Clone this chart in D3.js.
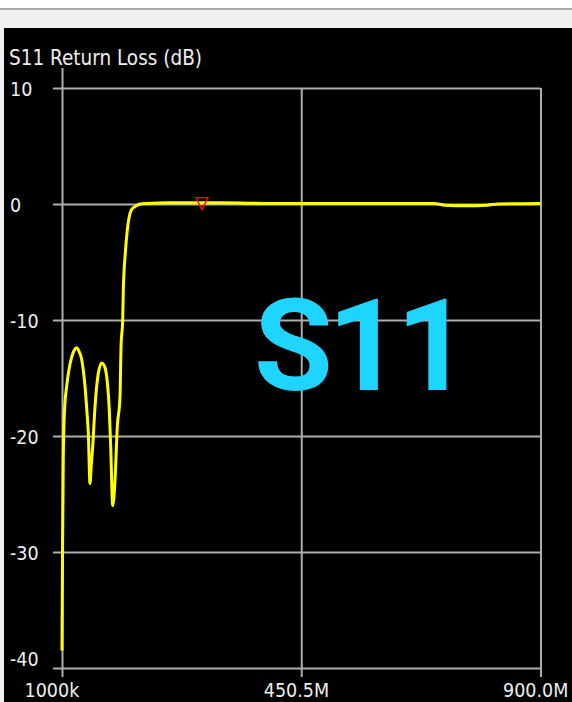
<!DOCTYPE html>
<html>
<head>
<meta charset="utf-8">
<script src="https://cdn.jsdelivr.net/npm/d3@7/dist/d3.min.js"></script>
<style>
  html, body { margin: 0; padding: 0; background: #f0f0f0; }
  svg { display: block; }
</style>
</head>
<body>
<svg id="chart" width="572" height="702"></svg>
<script>
// ---- data ----
const chartTitle = "S11 Return Loss (dB)";
const bigLabel = "S11";
const freqMHz = [1, 2, 3.4, 5.5, 9.8, 14, 19.2, 24, 28.6, 33, 38, 44.2, 48, 50.4, 53.6, 56, 58.7, 63, 69.2, 75.6, 80, 85, 89.9, 92.5, 96.3, 100.6, 104.9, 110, 111.9, 115, 116.2, 119.9, 123.7, 128.8, 133, 138, 147.6, 160, 200, 264, 300, 400, 500, 600, 700, 720, 760, 800, 820, 900];
const s11dB = [-38.5, -30, -22, -18, -15.7, -14.3, -13.2, -12.6, -12.4, -12.7, -13.4, -15.7, -18, -19.7, -24.1, -22.5, -20.9, -17.5, -14.6, -13.7, -13.9, -14.9, -17.8, -20.9, -26, -23.8, -19.2, -16.6, -12.3, -10, -7.4, -4.25, -2.24, -0.8, -0.4, -0.23, 0.0, 0.05, 0.1, 0.1, 0.1, 0.05, 0.05, 0.05, 0.05, -0.1, -0.15, -0.1, 0.0, 0.05];
const markerFreq = [264];
const markerDB = [0.1];
const yTicks = [10, 0, -10, -20, -30, -40];
const xTicks = [1, 450.5, 900];
const xTickLabels = ["1000k", "450.5M", "900.0M"];

(function () {
// ---- layout ----
const svg = d3.select("#chart");
const W = 572, H = 702;
const pLeft = 62, pRight = 540.5, pTop = 88, pBottom = 668;

// window chrome
svg.append("rect").attr("x", 0).attr("y", 0).attr("width", W).attr("height", H).attr("fill", "#f0f0f0");
svg.append("rect").attr("x", 0).attr("y", 0).attr("width", W).attr("height", 8).attr("fill", "#ffffff");
svg.append("rect").attr("x", 0).attr("y", 8).attr("width", W).attr("height", 2).attr("fill", "#a7a7a7");
svg.append("rect").attr("x", 4).attr("y", 28).attr("width", W - 4).attr("height", H - 28).attr("fill", "#000000");

const x = d3.scaleLinear().domain([1, 900]).range([pLeft, pRight]);
const y = d3.scaleLinear().domain([10, -40]).range([pTop, pBottom]);

const fontFam = "'DejaVu Sans Condensed', 'DejaVu Sans', sans-serif";
const gridColor = "#adadad";

// title
svg.append("text").attr("x", 9).attr("y", 65)
  .attr("fill", "#eeeeee").attr("font-family", fontFam).attr("font-stretch", "condensed")
  .attr("font-size", 20.5)
  .text(chartTitle);

// y axis / horizontal grid
const yAxis = d3.axisLeft(y).tickValues(yTicks).tickSize(-(pRight - pLeft)).tickSizeOuter(0)
  .tickFormat(d => String(d));
const gy = svg.append("g").attr("transform", `translate(${pLeft},0)`).call(yAxis);
gy.select(".domain").remove();
gy.selectAll(".tick line").attr("x1", -9).attr("x2", pRight - pLeft)
  .attr("stroke", gridColor).attr("stroke-width", 2);
gy.selectAll(".tick text")
  .attr("x", 10 - pLeft).attr("text-anchor", "start")
  .attr("y", d => d === -40 ? -3 : 7).attr("dy", 0)
  .attr("fill", "#eeeeee").attr("font-family", fontFam).attr("font-stretch", "condensed")
  .attr("font-size", 19.5);

// x axis / vertical grid
const xAxis = d3.axisBottom(x).tickValues(xTicks).tickSize(-(pBottom - pTop)).tickSizeOuter(0)
  .tickFormat((d, i) => xTickLabels[i]);
const gx = svg.append("g").attr("transform", `translate(0,${pBottom})`).call(xAxis);
gx.select(".domain").remove();
gx.selectAll(".tick line")
  .attr("y1", 9).attr("y2", (d, i) => i === 0 ? (68 - pBottom) : (pTop - pBottom))
  .attr("stroke", gridColor).attr("stroke-width", 2);
gx.selectAll(".tick text")
  .attr("text-anchor", "start").attr("x", -38).attr("y", 29).attr("dy", 0)
  .attr("fill", "#eeeeee").attr("font-family", fontFam).attr("font-stretch", "condensed")
  .attr("font-size", 19.5);

// big label
svg.append("text").attr("x", 254).attr("y", 390)
  .attr("fill", "#1fd5ff").attr("font-family", "Roboto, 'Liberation Sans', sans-serif").attr("font-weight", "bold")
  .attr("font-size", 128).attr("letter-spacing", -5)
  .text(bigLabel);

// trace
const pts = freqMHz.map((f, i) => [f, s11dB[i]]);
const line = d3.line().x(d => x(d[0])).y(d => y(d[1])).curve(d3.curveMonotoneX);
svg.append("path").datum(pts).attr("d", line)
  .attr("fill", "none").attr("stroke", "#ffff00").attr("stroke-width", 3)
  .attr("stroke-linejoin", "round");

// marker
markerFreq.forEach((f, i) => {
  const mx = x(f), my = y(markerDB[i]);
  svg.append("path")
    .attr("d", `M${mx - 6},${my - 5}L${mx + 6},${my - 5}L${mx},${my + 7}Z`)
    .attr("fill", "none").attr("stroke", "#ff0000").attr("stroke-width", 1.5);
});
})();
</script>
</body>
</html>
